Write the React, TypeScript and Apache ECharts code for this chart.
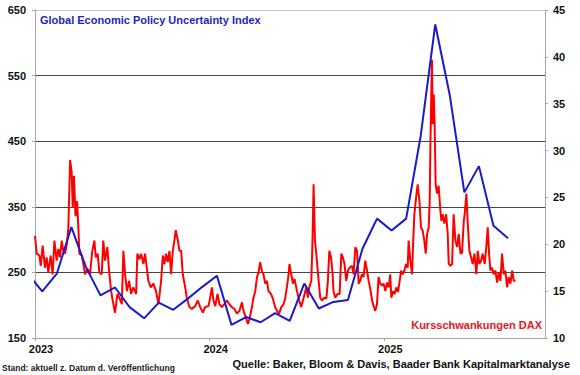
import React, { useEffect, useRef } from "react";
import * as echarts from "echarts";

// Global Economic Policy Uncertainty Index (monthly, left axis)
const epuMonths = [
  "2022-12", "2023-01", "2023-02", "2023-03", "2023-04", "2023-05", "2023-06", "2023-07",
  "2023-08", "2023-09", "2023-10", "2023-11", "2023-12", "2024-01", "2024-02", "2024-03",
  "2024-04", "2024-05", "2024-06", "2024-07", "2024-08", "2024-09", "2024-10", "2024-11",
  "2024-12", "2025-01", "2025-02", "2025-03", "2025-04", "2025-05", "2025-06", "2025-07",
  "2025-08", "2025-09",
];
const epuValues = [
  248, 221, 248, 319, 258, 215, 227, 197,
  180, 204, 193, 210, 228, 245, 170, 182,
  174, 188, 176, 233, 195, 205, 208, 286,
  332, 314, 332, 458, 628, 520, 372, 412,
  321, 302,
];

// Kursschwankungen DAX (right axis), time as decimal year
const daxTime = [
  2023.000, 2023.010, 2023.025, 2023.033, 2023.044, 2023.057, 2023.067, 2023.076, 2023.090, 2023.101,
  2023.111, 2023.124, 2023.134, 2023.143, 2023.153, 2023.162, 2023.172, 2023.182, 2023.191, 2023.201,
  2023.210, 2023.216, 2023.223, 2023.232, 2023.241, 2023.249, 2023.254, 2023.268, 2023.277, 2023.287,
  2023.300, 2023.315, 2023.328, 2023.340, 2023.348, 2023.359, 2023.368, 2023.382, 2023.391, 2023.401,
  2023.414, 2023.424, 2023.436, 2023.445, 2023.458, 2023.472, 2023.483, 2023.497, 2023.506, 2023.516,
  2023.526, 2023.539, 2023.550, 2023.563, 2023.579, 2023.586, 2023.598, 2023.607, 2023.621, 2023.630,
  2023.640, 2023.649, 2023.663, 2023.678, 2023.693, 2023.707, 2023.722, 2023.732, 2023.741, 2023.751,
  2023.760, 2023.770, 2023.779, 2023.789, 2023.798, 2023.806, 2023.818, 2023.827, 2023.837, 2023.846,
  2023.860, 2023.869, 2023.884, 2023.898, 2023.917, 2023.932, 2023.946, 2023.961, 2023.974, 2023.993,
  2024.003, 2024.013, 2024.022, 2024.032, 2024.045, 2024.056, 2024.070, 2024.083, 2024.099, 2024.113,
  2024.127, 2024.142, 2024.156, 2024.171, 2024.185, 2024.194, 2024.207, 2024.219, 2024.228, 2024.242,
  2024.251, 2024.261, 2024.271, 2024.280, 2024.289, 2024.299, 2024.308, 2024.318, 2024.328, 2024.337,
  2024.351, 2024.362, 2024.375, 2024.385, 2024.398, 2024.410, 2024.423, 2024.433, 2024.442, 2024.452,
  2024.457, 2024.467, 2024.477, 2024.486, 2024.500, 2024.513, 2024.524, 2024.538, 2024.553, 2024.563,
  2024.570, 2024.582, 2024.589, 2024.595, 2024.603, 2024.609, 2024.614, 2024.624, 2024.633, 2024.643,
  2024.656, 2024.668, 2024.677, 2024.685, 2024.695, 2024.704, 2024.709, 2024.719, 2024.732, 2024.744,
  2024.754, 2024.763, 2024.772, 2024.782, 2024.792, 2024.801, 2024.815, 2024.824, 2024.834, 2024.844,
  2024.853, 2024.862, 2024.872, 2024.881, 2024.891, 2024.901, 2024.910, 2024.920, 2024.930, 2024.939,
  2024.948, 2024.958, 2024.967, 2024.977, 2024.987, 2024.996, 2025.006, 2025.015, 2025.025, 2025.034,
  2025.040, 2025.050, 2025.059, 2025.069, 2025.078, 2025.088, 2025.096, 2025.105, 2025.115, 2025.124,
  2025.134, 2025.139, 2025.149, 2025.159, 2025.164, 2025.172, 2025.182, 2025.191, 2025.201, 2025.210,
  2025.219, 2025.229, 2025.237, 2025.245, 2025.254, 2025.260, 2025.264, 2025.269, 2025.273, 2025.277,
  2025.283, 2025.288, 2025.294, 2025.302, 2025.311, 2025.321, 2025.327, 2025.334, 2025.344, 2025.354,
  2025.363, 2025.369, 2025.378, 2025.388, 2025.397, 2025.407, 2025.417, 2025.426, 2025.436, 2025.445,
  2025.455, 2025.460, 2025.470, 2025.477, 2025.487, 2025.497, 2025.506, 2025.516, 2025.527, 2025.535,
  2025.544, 2025.554, 2025.563, 2025.575, 2025.585, 2025.592, 2025.600, 2025.607, 2025.617, 2025.626,
  2025.636, 2025.646, 2025.655, 2025.665, 2025.674, 2025.684, 2025.693, 2025.703, 2025.712, 2025.722,
  2025.732, 2025.741, 2025.751,
];
const daxValues = [
  20.9, 19.0, 18.8, 17.7, 19.85, 17.5, 18.6, 17.0, 18.8, 16.8,
  20.4, 18.25, 19.5, 18.6, 20.4, 19.3, 19.0, 20.0, 21.8, 29.0,
  27.7, 23.9, 27.3, 23.0, 24.6, 21.5, 19.0, 18.8, 17.9, 16.8,
  17.4, 16.8, 19.3, 20.4, 18.6, 19.0, 17.0, 16.8, 20.4, 18.25,
  19.7, 17.2, 15.0, 14.0, 12.7, 14.7, 14.3, 13.6, 19.3, 16.8,
  15.0, 16.1, 14.7, 15.4, 14.7, 19.0, 18.4, 19.0, 17.9, 19.0,
  17.5, 16.1, 15.4, 15.8, 15.0, 13.6, 16.1, 18.8, 17.9, 19.0,
  18.1, 19.3, 16.8, 19.3, 20.4, 21.5, 20.4, 19.3, 19.3, 16.8,
  15.4, 14.3, 13.3, 13.1, 13.4, 14.0, 13.3, 12.7, 13.3, 13.4,
  14.3, 15.4, 14.0, 13.4, 14.7, 13.6, 13.3, 13.6, 14.0, 13.6,
  13.3, 13.1, 12.6, 12.9, 13.8, 12.9, 12.2, 11.5, 12.0, 13.3,
  14.3, 15.0, 16.5, 17.0, 18.1, 17.2, 16.8, 15.8, 16.1, 15.0,
  14.7, 14.2, 13.3, 12.9, 12.6, 13.3, 13.6, 14.3, 15.4, 16.8,
  17.9, 16.8, 15.8, 16.3, 15.0, 14.0, 13.3, 14.3, 15.4, 14.3,
  15.4, 16.1, 20.4, 26.4, 20.4, 19.3, 18.25, 16.1, 14.3, 14.0,
  14.3, 14.2, 16.1, 19.3, 18.6, 16.8, 15.0, 14.3, 14.7, 14.7,
  19.0, 18.6, 17.9, 16.1, 17.2, 17.5, 17.7, 16.8, 19.7, 19.3,
  15.8, 16.1, 16.8, 16.5, 18.25, 17.2, 16.1, 15.2, 14.0, 13.4,
  12.9, 13.6, 16.5, 15.8, 15.6, 15.8, 15.0, 15.9, 15.4, 16.8,
  14.3, 15.0, 14.7, 15.4, 14.9, 16.1, 17.2, 16.8, 17.2, 17.9,
  17.5, 20.4, 18.25, 16.8, 19.7, 23.2, 25.0, 26.4, 24.65, 21.8,
  21.5, 20.4, 19.0, 21.1, 21.8, 24.65, 30.7, 36.0, 39.7, 32.8,
  36.0, 32.8, 26.4, 25.4, 26.25, 23.6, 22.5, 23.2, 22.2, 23.2,
  21.1, 17.9, 17.7, 17.9, 23.2, 20.4, 19.7, 21.1, 19.0, 19.1,
  22.5, 23.2, 25.4, 22.5, 19.3, 18.6, 17.9, 19.0, 16.8, 19.3,
  17.9, 18.25, 19.0, 17.9, 20.0, 21.8, 19.0, 17.2, 17.5, 16.8,
  17.2, 15.9, 17.0, 16.1, 19.0, 16.8, 17.2, 15.4, 16.5, 15.8,
  17.2, 16.1, 16.1,
];

const leftTicks = ["150", "250", "350", "450", "550", "650"];
const yearTicks = [2023, 2024, 2025];

const LEFT_BASE = 150;
const FONT = "Liberation Sans, Arial, sans-serif";

function monthToYear(s: string): number {
  const [y, m] = s.split("-").map(Number);
  return y + (m - 0.5) / 12;
}

export default function App() {
  const ref = useRef<HTMLDivElement>(null);

  useEffect(() => {
    if (!ref.current) return;
    const chart = echarts.init(ref.current, null, { renderer: "svg" });

    const epuData = epuMonths.map((m, i) => [monthToYear(m), epuValues[i] - LEFT_BASE]);
    const daxData = daxTime.map((t, i) => [t, daxValues[i]]);

    const labelStyle = {
      fontFamily: FONT,
      fontWeight: "bold" as const,
      fontSize: 11,
      color: "#111",
    };

    chart.setOption({
      animation: false,
      backgroundColor: "#ffffff",
      grid: { left: 35, right: 35, top: 10, bottom: 37, containLabel: false },
      xAxis: {
        type: "value",
        min: 2023,
        max: 2025.92,
        interval: 1,
        axisLine: { show: true, lineStyle: { color: "#A6A6A6", width: 1 } },
        axisTick: { show: true, length: 3, lineStyle: { color: "#A6A6A6" } },
        splitLine: { show: false },
        axisLabel: {
          ...labelStyle,
          margin: 5,
          padding: [0, 0, 0, 12],
          showMaxLabel: false,
          formatter: (v: number) => (yearTicks.includes(Math.round(v * 1000) / 1000) ? String(v) : ""),
        },
      },
      yAxis: [
        {
          type: "value",
          position: "left",
          min: 0,
          max: 500,
          interval: 100,
          axisLine: { show: true, lineStyle: { color: "#A6A6A6", width: 1 } },
          axisTick: { show: true, length: 3, lineStyle: { color: "#A6A6A6" } },
          axisLabel: {
            ...labelStyle,
            margin: 9,
            formatter: (v: number) => leftTicks[Math.round(v / 100)] ?? "",
          },
          splitLine: {
            show: true,
            lineStyle: {
              color: ["#C8C8C8", "#444444", "#444444", "#444444", "#444444", "#C8C8C8"],
              width: 1,
            },
          },
        },
        {
          type: "value",
          position: "right",
          min: 10,
          max: 45,
          interval: 5,
          axisLine: { show: true, lineStyle: { color: "#A6A6A6", width: 1 } },
          axisTick: { show: true, length: 3, lineStyle: { color: "#A6A6A6" } },
          axisLabel: { ...labelStyle, margin: 8 },
          splitLine: { show: false },
        },
      ],
      series: [
        {
          type: "line",
          name: "Kursschwankungen DAX",
          yAxisIndex: 1,
          data: daxData,
          showSymbol: false,
          symbol: "none",
          lineStyle: { color: "#FF0000", width: 2 },
          z: 2,
        },
        {
          type: "line",
          name: "Global Economic Policy Uncertainty Index",
          yAxisIndex: 0,
          data: epuData,
          showSymbol: false,
          symbol: "none",
          lineStyle: { color: "#1A1ACC", width: 2 },
          z: 3,
        },
      ],
      graphic: [
        {
          type: "text",
          left: 40,
          top: 14,
          style: {
            text: "Global Economic Policy Uncertainty Index",
            fill: "#1F1FC0",
            font: `bold 11px ${FONT}`,
          },
        },
        {
          type: "text",
          right: 38,
          top: 319,
          style: {
            text: "Kursschwankungen DAX",
            fill: "#E8141E",
            font: `bold 11px ${FONT}`,
          },
        },
        {
          type: "text",
          left: 2,
          top: 363,
          style: {
            text: "Stand: aktuell z. Datum d. Veröffentlichung",
            fill: "#222",
            font: `bold 8.5px ${FONT}`,
          },
        },
        {
          type: "text",
          right: 10,
          top: 358,
          style: {
            text: "Quelle: Baker, Bloom & Davis, Baader Bank Kapitalmarktanalyse",
            fill: "#111",
            font: `bold 11px ${FONT}`,
          },
        },
      ],
    });

    return () => chart.dispose();
  }, []);

  return (
    <div
      ref={ref}
      style={{ position: "fixed", left: 0, top: 0, width: 580, height: 375, background: "#fff" }}
    />
  );
}
